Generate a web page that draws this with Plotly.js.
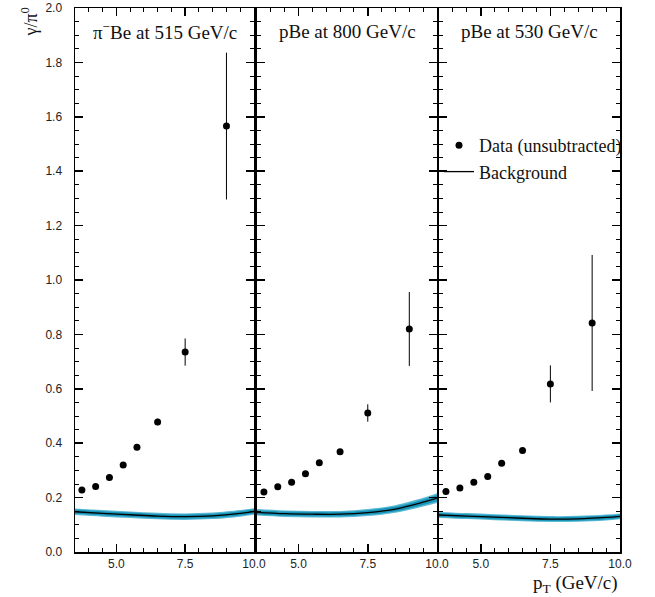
<!DOCTYPE html>
<html>
<head>
<meta charset="utf-8">
<script src="https://cdn.plot.ly/plotly-3.0.1.min.js"></script>
<style>body{margin:0;padding:0;background:#fff;} #chart{width:655px;height:597px;}</style>
</head>
<body>
<div id="chart"></div>
<script>
// ---- data ----
const panelTitles = ["\u03c0<sup>\u2212</sup>Be at 515 GeV/c", "pBe at 800 GeV/c", "pBe at 530 GeV/c"];
const dataX = [3.75, 4.25, 4.75, 5.25, 5.75, 6.5, 7.5, 9.0];
const data1 = [0.228, 0.241, 0.274, 0.320, 0.385, 0.478, 0.735, 1.566];
const err1  = [0.004, 0.004, 0.005, 0.005, 0.006, 0.012, 0.050, 0.270];
const data2 = [0.221, 0.240, 0.256, 0.288, 0.328, 0.369, 0.511, 0.820];
const err2  = [0.004, 0.004, 0.005, 0.005, 0.006, 0.008, 0.032, 0.136];
const data3 = [0.222, 0.235, 0.256, 0.278, 0.326, 0.373, 0.618, 0.842];
const err3  = [0.004, 0.004, 0.005, 0.006, 0.007, 0.010, 0.068, 0.250];

const bgX   = [3.5, 4.5, 5.5, 6.5, 7.5, 8.5, 9.5, 10.0];
const bg1   = [0.148, 0.142, 0.137, 0.132, 0.130, 0.133, 0.142, 0.149];
const bg1E  = [0.012, 0.012, 0.012, 0.012, 0.012, 0.012, 0.012, 0.012];
const bg2   = [0.146, 0.141, 0.139, 0.139, 0.145, 0.158, 0.183, 0.198];
const bg2E  = [0.012, 0.012, 0.012, 0.012, 0.013, 0.014, 0.016, 0.018];
const bg3   = [0.136, 0.132, 0.128, 0.124, 0.121, 0.122, 0.127, 0.131];
const bg3E  = [0.011, 0.011, 0.011, 0.011, 0.011, 0.011, 0.011, 0.011];

const xTickVals = [5.0, 7.5, 10.0];
const xTickText = ["5.0", "7.5", "10.0"];

// ---- build traces ----
const panels = [
  {d: data1, e: err1, bg: bg1, be: bg1E},
  {d: data2, e: err2, bg: bg2, be: bg2E},
  {d: data3, e: err3, bg: bg3, be: bg3E}
];
const traces = [];
panels.forEach((p, i) => {
  const xa = i === 0 ? 'x' : 'x' + (i + 1);
  const ya = i === 0 ? 'y' : 'y' + (i + 1);
  const bands = [
    {f: 1.0, c: 'rgb(90,185,212)'},
    {f: 0.65, c: 'rgb(24,148,184)'}
  ];
  bands.forEach(b => {
    traces.push({x: bgX, y: p.bg.map((v, k) => v + b.f * p.be[k]), xaxis: xa, yaxis: ya,
      mode: 'lines', line: {width: 0, shape: 'spline'}, showlegend: false, hoverinfo: 'skip'});
    traces.push({x: bgX, y: p.bg.map((v, k) => v - b.f * p.be[k]), xaxis: xa, yaxis: ya,
      mode: 'lines', line: {width: 0, shape: 'spline'}, fill: 'tonexty', fillcolor: b.c,
      showlegend: false, hoverinfo: 'skip'});
  });
  traces.push({x: bgX, y: p.bg, xaxis: xa, yaxis: ya, mode: 'lines', name: 'Background',
    line: {color: 'black', width: 1.3, shape: 'spline'}, showlegend: i === 2, legendrank: 2});
  traces.push({x: dataX, y: p.d, xaxis: xa, yaxis: ya, mode: 'markers', name: 'Data (unsubtracted)',
    marker: {color: 'black', size: 7},
    error_y: {type: 'data', array: p.e, visible: true, color: 'black', thickness: 1, width: 0},
    showlegend: i === 2, legendrank: 1});
});

// ---- layout ----
const W = 655, H = 597, L = 75, R = 35, T = 8, B = 45;
const pw = W - L - R, ph = H - T - B;
const px2x = px => (px - L) / pw;
const py2y = py => (H - B - py) / ph;
const serif = 'Liberation Serif, Times New Roman, serif';

const axBase = {
  range: [3.5, 10.0], showgrid: false, zeroline: false, showline: true, linecolor: 'black', linewidth: 1.5,
  mirror: 'ticks', ticks: 'inside', ticklen: 8, tickwidth: 1.5, tickcolor: 'black',
  tickvals: xTickVals, ticktext: xTickText,
  tickfont: {family: 'Liberation Sans, Arial, sans-serif', size: 12, color: '#222'},
  minor: {dtick: 0.5, tick0: 0, ticks: 'inside', ticklen: 4, tickwidth: 1, tickcolor: 'black'}
};
const yBase = {
  range: [0, 2.0], showgrid: false, zeroline: false, showline: true, linecolor: 'black', linewidth: 1.5,
  mirror: 'ticks', ticks: 'inside', ticklen: 8, tickwidth: 1.5, tickcolor: 'black',
  dtick: 0.2, tick0: 0, tickformat: '.1f',
  tickfont: {family: 'Liberation Sans, Arial, sans-serif', size: 12, color: '#222'},
  minor: {dtick: 0.05, tick0: 0, ticks: 'inside', ticklen: 4, tickwidth: 1, tickcolor: 'black'}
};
const doms = [[0, px2x(254)], [px2x(257), px2x(437)], [px2x(439), 1]];

const layout = {
  width: W, height: H,
  margin: {l: L, r: R, t: T, b: B},
  paper_bgcolor: 'white', plot_bgcolor: 'white',
  showlegend: true,
  legend: {x: px2x(439), y: py2y(127), xanchor: 'left', yanchor: 'top', traceorder: 'normal',
    bgcolor: 'rgba(0,0,0,0)', borderwidth: 0,
    font: {family: serif, size: 18, color: '#111'}},
  xaxis:  Object.assign({}, axBase, {domain: doms[0], anchor: 'y'}),
  xaxis2: Object.assign({}, axBase, {domain: doms[1], anchor: 'y2'}),
  xaxis3: Object.assign({}, axBase, {domain: doms[2], anchor: 'y3'}),
  yaxis:  Object.assign({}, yBase, {anchor: 'x', ticklabelstandoff: 9}),
  yaxis2: Object.assign({}, yBase, {anchor: 'x2', showticklabels: false}),
  yaxis3: Object.assign({}, yBase, {anchor: 'x3', showticklabels: false}),
  annotations: [
    {text: panelTitles[0], xref: 'paper', yref: 'paper', x: px2x(165), y: py2y(31), showarrow: false,
      xanchor: 'center', yanchor: 'middle', font: {family: serif, size: 19, color: '#111'}},
    {text: panelTitles[1], xref: 'paper', yref: 'paper', x: px2x(347), y: py2y(32), showarrow: false,
      xanchor: 'center', yanchor: 'middle', font: {family: serif, size: 19, color: '#111'}},
    {text: panelTitles[2], xref: 'paper', yref: 'paper', x: px2x(529), y: py2y(32), showarrow: false,
      xanchor: 'center', yanchor: 'middle', font: {family: serif, size: 19, color: '#111'}},
    {text: 'p<sub>T</sub> (GeV/c)', xref: 'paper', yref: 'paper', x: 1.0, y: py2y(584), showarrow: false,
      xanchor: 'right', yanchor: 'middle', font: {family: serif, size: 19, color: '#111'}},
    {text: '\u03b3/\u03c0<sup>0</sup>', xref: 'paper', yref: 'paper', x: px2x(30), y: py2y(6), showarrow: false,
      textangle: -90, xanchor: 'center', yanchor: 'top', font: {family: serif, size: 18, color: '#111'}}
  ]
};

Plotly.newPlot('chart', traces, layout, {staticPlot: true, displayModeBar: false});
</script>
</body>
</html>
